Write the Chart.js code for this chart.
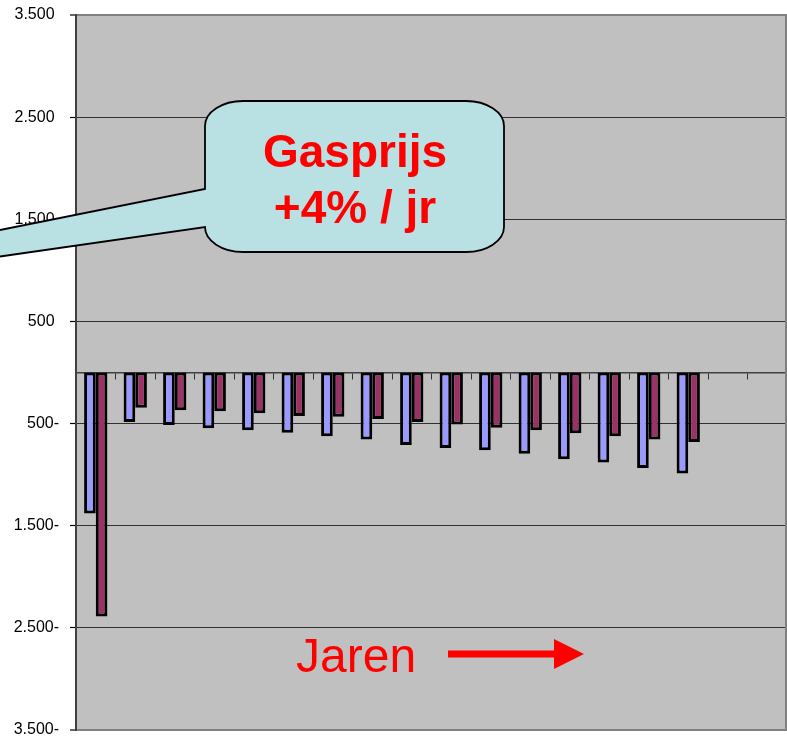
<!DOCTYPE html>
<html lang="nl">
<head>
<meta charset="utf-8">
<title>Gasprijs +4% / jr</title>
<script src="https://cdn.jsdelivr.net/npm/chart.js@4.4.1/dist/chart.umd.min.js"></script>
<style>
  html, body { margin: 0; padding: 0; background: #ffffff; }
  #wrap { width: 787px; height: 747px; }
  canvas { display: block; }
</style>
</head>
<body>
<div id="wrap"><canvas id="grafiek" width="787" height="747"></canvas></div>
<script>
// Jaren (categorieën); de laatste twee jaren hebben geen waarden
const jaren = ['1','2','3','4','5','6','7','8','9','10','11','12','13','14','15','16','17','18'];

// Jaarlijkse bedragen per scenario
const scenarioBlauw = [-1380, -485, -515, -545, -565, -590, -625, -655, -710, -740, -760, -795, -850, -880, -935, -990];
const scenarioRood  = [-2390, -345, -370, -380, -400, -425, -432, -455, -485, -510, -540, -565, -595, -625, -655, -680];

// As-instellingen
const yMin = -3500;
const yMax = 3500;
const yStap = 1000;

// Getal in Nederlandse notatie, minteken achteraan
function asLabel(v) {
  const s = Math.abs(v).toString().replace(/\B(?=(\d{3})+(?!\d))/g, '.');
  return v < 0 ? s + '-' : s + ' ';
}

const FONT = "'Liberation Sans', Arial, sans-serif";

// Grijze tekenvlak-achtergrond en rand
const achtergrond = {
  id: 'achtergrond',
  beforeDraw(chart) {
    const { ctx, chartArea: a } = chart;
    ctx.save();
    ctx.fillStyle = '#ffffff';
    ctx.fillRect(0, 0, chart.width, chart.height);
    ctx.fillStyle = '#c0c0c0';
    ctx.fillRect(a.left, a.top, a.right - a.left, a.bottom - a.top);
    ctx.restore();
  },
  afterDatasetsDraw(chart) {
    const { ctx, chartArea: a } = chart;
    ctx.save();
    ctx.strokeStyle = '#808080';
    ctx.lineWidth = 2;
    ctx.beginPath();
    ctx.moveTo(a.right - 1, a.top);
    ctx.lineTo(a.right - 1, a.bottom);
    ctx.stroke();
    ctx.restore();
  }
};

// Tekstballon en "Jaren"-pijl
const annotaties = {
  id: 'annotaties',
  afterDraw(chart) {
    const ctx = chart.ctx;
    ctx.save();

    // ballon met punt naar links
    const L = 205, R = 504, T = 101, B = 252, rx = 38, ry = 25;
    const pBoven = 189, pOnder = 227;
    ctx.beginPath();
    ctx.moveTo(L, pBoven);
    ctx.lineTo(L, T + ry);
    ctx.bezierCurveTo(L, T + ry * 0.45, L + rx * 0.45, T, L + rx, T);
    ctx.lineTo(R - rx, T);
    ctx.bezierCurveTo(R - rx * 0.45, T, R, T + ry * 0.45, R, T + ry);
    ctx.lineTo(R, B - ry);
    ctx.bezierCurveTo(R, B - ry * 0.45, R - rx * 0.45, B, R - rx, B);
    ctx.lineTo(L + rx, B);
    ctx.bezierCurveTo(L + rx * 0.45, B, L, B - ry * 0.45, L, B - ry);
    ctx.lineTo(L, pOnder);
    ctx.lineTo(-10, pOnder + (L + 10) * 0.144);
    ctx.lineTo(-10, pBoven + (L + 10) * 0.2);
    ctx.closePath();
    ctx.fillStyle = '#b9e0e3';
    ctx.fill();
    ctx.strokeStyle = '#000000';
    ctx.lineWidth = 1.8;
    ctx.stroke();

    ctx.fillStyle = '#ff0000';
    ctx.textAlign = 'center';
    ctx.textBaseline = 'alphabetic';
    ctx.font = 'bold 46px ' + FONT;
    ctx.fillText('Gasprijs', 355, 167);
    ctx.fillText('+4% / jr', 355, 223);

    // "Jaren" met pijl
    ctx.textAlign = 'left';
    ctx.font = '48px ' + FONT;
    ctx.fillText('Jaren', 296, 672);

    ctx.strokeStyle = '#ff0000';
    ctx.lineWidth = 7;
    ctx.beginPath();
    ctx.moveTo(448, 654);
    ctx.lineTo(558, 654);
    ctx.stroke();
    ctx.beginPath();
    ctx.moveTo(554, 639);
    ctx.lineTo(584, 654);
    ctx.lineTo(554, 669);
    ctx.closePath();
    ctx.fill();

    ctx.restore();
  }
};

new Chart(document.getElementById('grafiek'), {
  type: 'bar',
  data: {
    labels: jaren,
    datasets: [
      {
        label: 'Scenario 1',
        data: scenarioBlauw,
        backgroundColor: '#9999ff',
        borderColor: '#000000',
        borderWidth: 3,
        borderSkipped: false
      },
      {
        label: 'Scenario 2',
        data: scenarioRood,
        backgroundColor: '#993366',
        borderColor: '#000000',
        borderWidth: 3,
        borderSkipped: false
      }
    ]
  },
  options: {
    responsive: false,
    animation: false,
    devicePixelRatio: 1,
    layout: { padding: { top: 15, bottom: 17, left: 0, right: 0 } },
    plugins: {
      legend: { display: false },
      tooltip: { enabled: false }
    },
    datasets: {
      bar: { barPercentage: 1.0, categoryPercentage: 0.59 }
    },
    scales: {
      x: {
        type: 'category',
        position: { y: 0 },
        offset: true,
        grid: {
          offset: true,
          drawOnChartArea: false,
          drawTicks: true,
          tickLength: 6,
          tickColor: '#303030',
          color: '#303030'
        },
        border: { display: true, color: '#404040', width: 1.5 },
        ticks: { display: false }
      },
      y: {
        min: yMin,
        max: yMax,
        afterFit(scale) {
          scale.width = 76;
          scale.paddingTop = 0;
          scale.paddingBottom = 0;
        },
        grid: {
          color: (c) => (c.tick && Math.abs(c.tick.value) === yMax) ? '#808080' : '#303030',
          lineWidth: (c) => (c.tick && Math.abs(c.tick.value) === yMax) ? 2 : 1,
          tickColor: '#000000',
          tickLength: 6,
          tickWidth: 1.2
        },
        border: { display: true, color: '#404040', width: 2 },
        ticks: {
          stepSize: yStap,
          padding: 11,
          color: '#000000',
          font: { family: FONT, size: 16 },
          callback: (v) => asLabel(v)
        }
      }
    }
  },
  plugins: [achtergrond, annotaties]
});
</script>
</body>
</html>
